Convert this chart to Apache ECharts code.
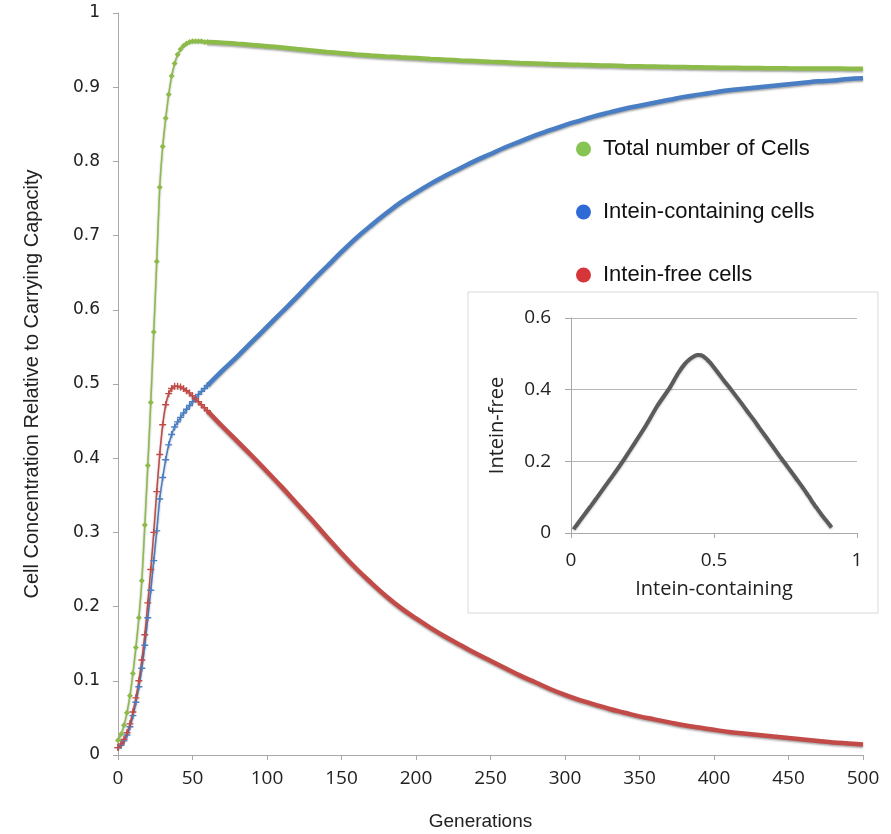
<!DOCTYPE html>
<html><head><meta charset="utf-8">
<script src="https://cdn.jsdelivr.net/npm/echarts@6/dist/echarts.min.js"></script>
<style>html,body{margin:0;padding:0;background:#fff}#c{width:891px;height:834px}</style>
</head><body><div id="c"></div>
<script>
// Generations at which values were read
const generations = [0,2,4,6,8,10,12,14,16,18,20,22,24,26,28,30,32,34,36,38,40,42,44,46,48,50,52,54,56,58,60,
  70,80,90,100,110,120,130,140,150,160,170,180,190,200,210,220,230,240,250,260,270,280,290,300,
  310,320,330,340,350,360,370,380,390,400,410,420,430,440,450,460,470,480,490,500];
const totalCells = [0.020,0.028,0.040,0.057,0.080,0.110,0.145,0.185,0.235,0.310,0.390,0.475,0.570,0.665,0.765,0.820,0.858,0.890,0.915,0.932,0.944,0.951,0.956,0.959,0.961,0.962,0.962,0.962,0.962,0.961,0.961,
  0.9600,0.9585,0.9570,0.9553,0.9535,0.9515,0.9495,0.9475,0.9458,0.9442,0.9428,0.9415,0.9403,0.9392,0.9381,0.9371,0.9361,0.9352,0.9343,0.9335,
  0.9327,0.9320,0.9313,0.9307,0.9301,0.9296,0.9291,0.9286,0.9282,0.9278,0.9274,0.9271,0.9268,0.9265,0.9262,0.9260,0.9258,0.9256,0.9254,0.9253,0.9252,0.9251,0.9250,0.9250];
const inteinContaining = [0.010,0.013,0.019,0.027,0.038,0.053,0.071,0.092,0.117,0.148,0.185,0.222,0.262,0.302,0.345,0.374,0.398,0.418,0.432,0.442,0.449,0.455,0.461,0.466,0.471,0.476,0.481,0.486,0.490,0.494,0.498,
  0.518,0.537,0.557,0.577,0.597,0.617,0.638,0.658,0.678,0.697,0.714,0.730,0.745,0.758,0.770,0.781,0.791,0.801,0.810,0.819,
  0.827,0.835,0.842,0.849,0.855,0.861,0.866,0.871,0.875,0.879,0.883,0.887,0.890,0.893,0.896,0.898,0.900,0.902,0.904,0.906,0.908,0.909,0.911,0.912];
const inteinFree = [0.010,0.015,0.021,0.030,0.042,0.058,0.077,0.100,0.128,0.162,0.205,0.250,0.300,0.355,0.405,0.445,0.472,0.487,0.494,0.497,0.497,0.496,0.494,0.491,0.488,0.484,0.480,0.476,0.472,0.468,0.464,
  0.443,0.423,0.403,0.382,0.361,0.339,0.317,0.294,0.272,0.251,0.232,0.214,0.198,0.184,0.171,0.159,0.148,0.137,0.127,0.117,
  0.107,0.098,0.089,0.081,0.074,0.068,0.062,0.057,0.052,0.048,0.044,0.040,0.037,0.034,0.031,0.029,0.027,0.025,0.023,0.021,0.019,0.017,0.0155,0.014];
const seriesNames = ['Total number of Cells','Intein-containing cells','Intein-free cells'];
const legendColors = ['#86c453','#2f6bd6','#d6363a'];
const lineColors = ['#8dbb4a','#4a7ec4','#c24a47'];

const SPLIT = generations.indexOf(60);
function pts(ys, a, b){ const r=[]; for(let i=a;i<=b;i++) r.push([generations[i], ys[i]]); return r; }
const shadow = {shadowColor:'rgba(0,0,0,0.35)', shadowBlur:2, shadowOffsetY:1.5};
const plusPath = 'path://M4,0H6V4H10V6H6V10H4V6H0V4H4Z';

function curve(name, ys, color, symbol, symSize){
  return [
    {type:'line', name, xAxisIndex:0, yAxisIndex:0, data:pts(ys,0,SPLIT), smooth:0.2,
     symbol, symbolSize:symSize, showSymbol:true,
     lineStyle:Object.assign({color, width:1.5}, shadow), itemStyle:{color, borderWidth:0}},
    {type:'line', name, xAxisIndex:0, yAxisIndex:0, data:pts(ys,SPLIT,generations.length-1), smooth:0.4,
     symbol:'none', showSymbol:false,
     lineStyle:Object.assign({color, width:4.5}, shadow), itemStyle:{color}}
  ];
}

const axisGray = '#a8a8a8';
const chart = echarts.init(document.getElementById('c'), null, {renderer:'canvas'});
chart.setOption({
  animation:false,
  backgroundColor:'#fff',
  graphic:[{type:'rect', shape:{x:468, y:292, width:410, height:321},
    style:{fill:'transparent', stroke:'#d9d9d9', lineWidth:1}, silent:true}],
  legend:{
    orient:'vertical', left:571, top:133, itemGap:41, itemWidth:15, itemHeight:15, icon:'circle',
    textStyle:{fontFamily:'Liberation Sans', fontSize:22, color:'#111', lineHeight:22, padding:[0,0,0,7]},
    data: seriesNames.map((n,i)=>({name:n, itemStyle:{color:legendColors[i], borderWidth:0}}))
  },
  grid:[
    {left:118, top:13, width:745, height:742, outerBoundsMode:'none', containLabel:false},
    {left:571, top:318, width:286, height:215, outerBoundsMode:'none', containLabel:false}
  ],
  xAxis:[
    {type:'value', gridIndex:0, min:0, max:500, interval:50,
     axisLine:{show:true, lineStyle:{color:axisGray}}, axisTick:{show:true, length:5, lineStyle:{color:axisGray}},
     splitLine:{show:false},
     axisLabel:{fontFamily:'Open Sans', fontSize:19, color:'#222', margin:14},
     name:'Generations', nameLocation:'middle', nameGap:57,
     nameTextStyle:{fontFamily:'Liberation Sans', fontSize:19, color:'#222', padding:[0,20,0,0]}},
    {type:'value', gridIndex:1, min:0, max:1, interval:0.5,
     axisLine:{show:true, lineStyle:{color:axisGray}}, axisTick:{show:true, length:5, lineStyle:{color:axisGray}},
     splitLine:{show:false},
     axisLabel:{fontFamily:'Open Sans', fontSize:19, color:'#222', margin:18},
     name:'Intein-containing', nameLocation:'middle', nameGap:46,
     nameTextStyle:{fontFamily:'Open Sans', fontSize:20, color:'#222'}}
  ],
  yAxis:[
    {type:'value', gridIndex:0, min:0, max:1, interval:0.1,
     axisLine:{show:true, lineStyle:{color:axisGray}}, axisTick:{show:true, length:5, lineStyle:{color:axisGray}},
     splitLine:{show:false},
     axisLabel:{fontFamily:'DejaVu Sans', fontSize:17, color:'#222', margin:18},
     name:'Cell Concentration Relative to Carrying Capacity', nameLocation:'middle', nameRotate:90, nameGap:76,
     nameTextStyle:{fontFamily:'Liberation Sans', fontSize:20, color:'#222'}},
    {type:'value', gridIndex:1, min:0, max:0.6, interval:0.2,
     axisLine:{show:true, lineStyle:{color:axisGray}}, axisTick:{show:true, length:6, lineStyle:{color:axisGray}},
     splitLine:{show:true, lineStyle:{color:'#b8b8b8'}},
     axisLabel:{fontFamily:'Open Sans', fontSize:19, color:'#222', margin:20},
     name:'Intein-free', nameLocation:'middle', nameRotate:90, nameGap:64,
     nameTextStyle:{fontFamily:'Open Sans', fontSize:20, color:'#222'}}
  ],
  series:[].concat(
    curve(seriesNames[1], inteinContaining, lineColors[1], plusPath, 7),
    curve(seriesNames[2], inteinFree, lineColors[2], plusPath, 7),
    curve(seriesNames[0], totalCells, lineColors[0], 'diamond', 6),
    [{type:'line', name:'phase', xAxisIndex:1, yAxisIndex:1,
      data: generations.map((g,i)=>[inteinContaining[i], inteinFree[i]]),
      smooth:0.2, symbol:'none', showSymbol:false,
      lineStyle:{color:'#5b5b5b', width:4, shadowColor:'rgba(0,0,0,0.25)', shadowBlur:2, shadowOffsetY:1}}]
  )
});
</script>
</body></html>
